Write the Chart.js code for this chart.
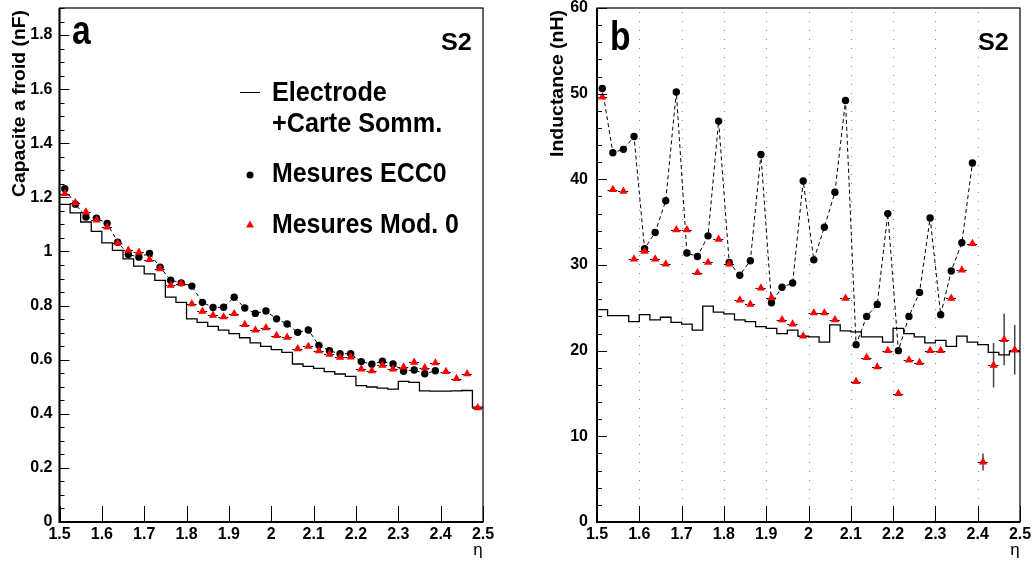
<!DOCTYPE html>
<html>
<head>
<meta charset="utf-8">
<script src="https://cdn.jsdelivr.net/npm/chart.js@4.4.1/dist/chart.umd.min.js"></script>
<style>
  html, body { margin: 0; padding: 0; background: #fff; }
  #wrap { position: relative; width: 1032px; height: 567px; }
  canvas { position: absolute; top: 0; }
  #cA { left: 0; }
  #cB { left: 516px; }
</style>
</head>
<body>
<div id="wrap">
  <canvas id="cA" width="516" height="567"></canvas>
  <canvas id="cB" width="516" height="567"></canvas>
</div>
<script>
/* ── data: 40 eta bins (centres) ──────────────────────────────────────── */
const eta = [1.5125, 1.5375, 1.5625, 1.5875, 1.6125, 1.6375, 1.6625, 1.6875, 1.7125, 1.7375,
             1.7625, 1.7875, 1.8125, 1.8375, 1.8625, 1.8875, 1.9125, 1.9375, 1.9625, 1.9875,
             2.0125, 2.0375, 2.0625, 2.0875, 2.1125, 2.1375, 2.1625, 2.1875, 2.2125, 2.2375,
             2.2625, 2.2875, 2.3125, 2.3375, 2.3625, 2.3875, 2.4125, 2.4375, 2.4625, 2.4875];
const HALF = 0.0125;

// panel a : capacitance (nF)
const capModel = [1.174, 1.143, 1.109, 1.074, 1.032, 1.004, 0.973, 0.946, 0.917, 0.893,
                  0.831, 0.812, 0.751, 0.738, 0.723, 0.709, 0.696, 0.681, 0.662, 0.649,
                  0.637, 0.627, 0.584, 0.575, 0.568, 0.556, 0.547, 0.538, 0.504, 0.499,
                  0.495, 0.491, 0.520, 0.516, 0.485, 0.484, 0.484, 0.485, 0.486, 0.425];
const capEcc0  = [1.232, 1.175, 1.127, 1.123, 1.104, 1.034, 0.989, 0.979, 0.993, 0.942,
                  0.894, 0.884, 0.872, 0.812, 0.793, 0.794, 0.831, 0.791, 0.771, 0.780,
                  0.751, 0.732, 0.701, 0.710, 0.653, 0.633, 0.622, 0.622, 0.593, 0.583,
                  0.594, 0.584, 0.557, 0.562, 0.548, 0.559];
const capMod0  = [1.214, 1.180, 1.146, 1.116, 1.090, 1.032, 1.004, 0.997, 0.970, 0.936,
                  0.875, 0.881, 0.806, 0.779, 0.764, 0.758, 0.770, 0.730, 0.709, 0.718,
                  0.689, 0.683, 0.640, 0.649, 0.633, 0.620, 0.609, 0.610, 0.565, 0.559,
                  0.579, 0.565, 0.573, 0.590, 0.570, 0.588, 0.556, 0.530, 0.548, 0.422];

// panel b : inductance (nH)
const indModel = [24.8, 24.1, 24.1, 23.4, 24.2, 23.6, 23.9, 23.3, 23.1, 22.4,
                  25.2, 24.5, 24.3, 23.6, 23.4, 22.8, 22.6, 22.0, 22.4, 21.7,
                  21.6, 21.0, 23.0, 22.3, 22.2, 21.6, 21.6, 21.0, 22.6, 22.0,
                  21.6, 20.9, 21.2, 20.5, 21.7, 21.0, 20.7, 19.8, 19.5, 19.9];
const indEcc0  = [50.6, 43.1, 43.5, 45.0, 31.9, 33.8, 37.5, 50.2, 31.4, 31.0,
                  33.4, 46.8, 30.3, 28.8, 30.5, 42.9, 25.6, 27.4, 27.9, 39.8,
                  30.6, 34.4, 38.5, 49.2, 20.7, 24.0, 25.4, 36.0, 20.0, 24.0,
                  26.8, 35.5, 24.2, 29.3, 32.6, 41.9];
const indMod0  = [49.6, 38.8, 38.6, 30.7, 31.6, 30.7, 30.1, 34.1, 34.1, 29.1,
                  30.3, 33.0, 30.1, 25.9, 25.4, 27.3, 26.2, 23.6, 23.1, 21.7,
                  24.4, 24.4, 23.6, 26.1, 16.4, 19.2, 18.1, 20.0, 15.0, 18.9,
                  18.6, 20.0, 20.0, 26.1, 29.4, 32.5,  7.0, 18.3, 21.3, 20.1];
const indErrIdx = [36, 37, 38, 39];
const indErrVal = [1.0, 2.6, 3.0, 2.9];

/* ── helpers ──────────────────────────────────────────────────────────── */
const NARROW = "'Liberation Sans Narrow','Arial Narrow','Liberation Sans',Arial,sans-serif";
const SANS   = "'Liberation Sans',Arial,Helvetica,sans-serif";

const pts  = vals => vals.map((v, i) => ({ x: eta[i], y: v }));
const steps = vals => {
  const out = [];
  vals.forEach((v, i) => { out.push({ x: eta[i] - HALF, y: v }, { x: eta[i] + HALF, y: v }); });
  return out;
};
const fmt = v => String(+(+v).toFixed(2));

function text(ctx, s, x, y, font, sx, align) {
  ctx.save();
  ctx.translate(x, y);
  ctx.scale(sx || 1, 1);
  ctx.font = font;
  ctx.textAlign = align || 'left';
  ctx.textBaseline = 'alphabetic';
  ctx.fillStyle = '#000';
  ctx.fillText(s, 0, 0);
  ctx.restore();
}

// keep the frame where ROOT put it: no label overhang padding
const noPad = s => { s.paddingTop = 0; s.paddingBottom = 0; s.paddingLeft = 0; s.paddingRight = 0; };

/* ── ROOT-like decorations: frame, inner ticks, error bars, texts ────── */
function decor(p) {
  return {
    id: 'decor',
    beforeDatasetsDraw(chart) {
      const { ctx, chartArea: a } = chart;
      const xs = chart.scales.x, ys = chart.scales.y;
      ctx.save();
      if (p.grid) {
        ctx.strokeStyle = '#8a8a8a'; ctx.lineWidth = 1; ctx.setLineDash([1, 8]);
        xs.ticks.forEach(t => {
          if (t.value <= xs.min + 1e-9 || t.value >= xs.max - 1e-9) return;
          const px = Math.round(xs.getPixelForValue(t.value)) + 0.5;
          ctx.beginPath(); ctx.moveTo(px, a.top + 4); ctx.lineTo(px, a.bottom); ctx.stroke();
        });
      }
      // horizontal (bin width) bars of Mod. 0
      ctx.strokeStyle = '#000'; ctx.lineWidth = 1; ctx.setLineDash([2, 2]);
      p.mod0.forEach((v, i) => {
        const y = Math.round(ys.getPixelForValue(v)) + 0.5;
        ctx.beginPath();
        ctx.moveTo(xs.getPixelForValue(eta[i] - HALF), y);
        ctx.lineTo(xs.getPixelForValue(eta[i] + HALF), y);
        ctx.stroke();
      });
      // vertical error bars
      ctx.setLineDash([]); ctx.strokeStyle = '#444'; ctx.lineWidth = 1.5;
      (p.errIdx || []).forEach((i, k) => {
        const x = xs.getPixelForValue(eta[i]);
        ctx.beginPath();
        ctx.moveTo(x, ys.getPixelForValue(p.mod0[i] - p.errVal[k]));
        ctx.lineTo(x, ys.getPixelForValue(p.mod0[i] + p.errVal[k]));
        ctx.stroke();
      });
      ctx.restore();
    },
    afterDraw(chart) {
      const { ctx, chartArea: a } = chart;
      const xs = chart.scales.x, ys = chart.scales.y;
      ctx.save();
      ctx.strokeStyle = '#000';
      // frame
      ctx.lineWidth = 1.2;
      ctx.strokeRect(a.left, a.top, a.right - a.left, a.bottom - a.top);
      ctx.lineWidth = 2;
      ctx.beginPath();
      ctx.moveTo(a.left, a.top); ctx.lineTo(a.left, a.bottom); ctx.lineTo(a.right, a.bottom);
      ctx.stroke();
      // inner ticks
      ctx.lineWidth = 1;
      xs.ticks.forEach(t => {
        const px = Math.round(xs.getPixelForValue(t.value)) + 0.5;
        ctx.beginPath(); ctx.moveTo(px, a.bottom); ctx.lineTo(px, a.bottom - 16); ctx.stroke();
      });
      for (let v = 0; v <= ys.max + 1e-9; v += p.yMinor) {
        const major = Math.abs(v / p.yStep - Math.round(v / p.yStep)) < 1e-6;
        const py = Math.round(ys.getPixelForValue(v)) + 0.5;
        ctx.beginPath(); ctx.moveTo(a.left, py); ctx.lineTo(a.left + (major ? 10 : 5), py); ctx.stroke();
      }
      ctx.restore();

      // panel letter, S2, eta
      text(ctx, p.letter, p.letterX, p.letterY, 'bold 40px ' + SANS, 0.84);
      text(ctx, 'S2', a.right - 42, 50, 'bold 24px ' + SANS, 1.05);
      text(ctx, 'η', a.right - 5, 555, '17px ' + SANS, 1, 'center');

      // rotated y title, fitted to its length in the figure
      ctx.save();
      ctx.translate(p.titleX, 10);
      ctx.rotate(-Math.PI / 2);
      ctx.font = 'bold 19px ' + SANS;
      const w = ctx.measureText(p.title).width;
      ctx.scale(p.titleLen / w, 1);
      ctx.textAlign = 'right';
      ctx.fillStyle = '#000';
      ctx.fillText(p.title, 0, 0);
      ctx.restore();

      if (p.legend) {
        const f = 'bold 28px ' + SANS;
        ctx.save();
        ctx.strokeStyle = '#000'; ctx.lineWidth = 1;
        ctx.beginPath(); ctx.moveTo(240, 92.5); ctx.lineTo(260, 92.5); ctx.stroke();
        ctx.fillStyle = '#000';
        ctx.beginPath(); ctx.arc(250, 175, 3.5, 0, Math.PI * 2); ctx.fill();
        ctx.fillStyle = '#ff0000';
        ctx.beginPath(); ctx.moveTo(250, 220.5); ctx.lineTo(254, 227.5); ctx.lineTo(246, 227.5); ctx.closePath(); ctx.fill();
        ctx.restore();
        text(ctx, 'Electrode',      272, 101, f, 0.9);
        text(ctx, '+Carte Somm.',   272, 132, f, 0.9);
        text(ctx, 'Mesures ECC0',   272, 182, f, 0.89);
        text(ctx, 'Mesures Mod. 0', 272, 233, f, 0.89);
      }
    }
  };
}

/* ── panels ───────────────────────────────────────────────────────────── */
function panel(id, p) {
  new Chart(document.getElementById(id), {
    type: 'line',
    data: {
      datasets: [
        {
          data: steps(p.model), borderColor: '#000', borderWidth: 1.3,
          pointRadius: 0, tension: 0, order: 3,
        },
        {
          data: pts(p.ecc0), borderColor: '#000', borderWidth: 1, borderDash: [4, 3],
          pointRadius: 3.7, pointBackgroundColor: '#000', pointBorderWidth: 0,
          tension: 0, order: 2,
        },
        {
          data: pts(p.mod0), showLine: false, pointStyle: 'triangle',
          pointRadius: 4.8, pointBackgroundColor: '#ff0000', pointBorderColor: '#ff0000',
          pointBorderWidth: 0, order: 1,
        },
      ],
    },
    options: {
      responsive: false, animation: false, devicePixelRatio: 1,
      layout: { padding: { top: 8, right: p.padRight, left: 0, bottom: 0 } },
      plugins: { legend: { display: false }, tooltip: { enabled: false } },
      scales: {
        x: {
          type: 'linear', min: 1.5, max: 2.5,
          grid: { display: false, drawTicks: false },
          border: { display: false },
          ticks: {
            stepSize: 0.1, autoSkip: false, maxRotation: 0, padding: 3,
            color: '#000', font: { family: NARROW, weight: 'bold', size: 16 },
            callback: fmt,
          },
          afterFit: s => { s.height = 45; noPad(s); },
        },
        y: {
          min: 0, max: p.yMax,
          grid: { display: false, drawTicks: false },
          border: { display: false },
          ticks: {
            stepSize: p.yStep, padding: p.yPad,
            color: '#000', font: { family: NARROW, weight: 'bold', size: 16 },
            callback: fmt,
          },
          afterBuildTicks: s => {
            s.ticks = s.ticks.filter(t => Math.abs(t.value / p.yStep - Math.round(t.value / p.yStep)) < 1e-6);
          },
          afterFit: s => { s.width = p.axisW; noPad(s); },
        },
      },
    },
    plugins: [decor(p)],
  });
}

panel('cA', {
  model: capModel, ecc0: capEcc0, mod0: capMod0,
  yMax: 1.9, yStep: 0.2, yMinor: 0.05, yPad: 7, axisW: 59.5, padRight: 33,
  letter: 'a', letterX: 72, letterY: 44,
  title: 'Capacite a froid (nF)', titleX: 25, titleLen: 187, legend: true,
});

panel('cB', {
  model: indModel, ecc0: indEcc0, mod0: indMod0, errIdx: indErrIdx, errVal: indErrVal,
  yMax: 60, yStep: 10, yMinor: 2, yPad: 9, axisW: 81, padRight: 12,
  letter: 'b', letterX: 94, letterY: 50,
  title: 'Inductance (nH)', titleX: 47, titleLen: 147, grid: true,
});
</script>
</body>
</html>
